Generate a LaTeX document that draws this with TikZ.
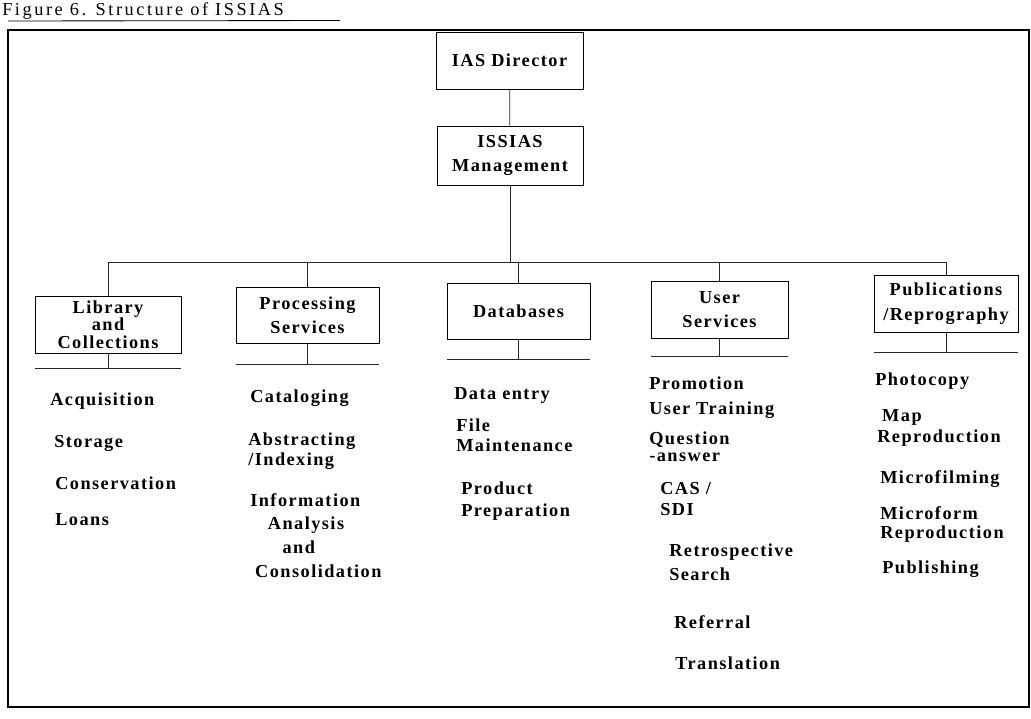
\documentclass[tikz,border=0pt]{standalone}
\usepackage{fontspec}
\setmainfont{Liberation Serif}[LetterSpace=8]
\newfontfamily\titlefont{Liberation Serif}[LetterSpace=14]
\tikzset{
    every node/.style={font=\fontsize{13}{15.5}\selectfont\bfseries, inner sep=0pt}
}
\tikzset{
    unitbox/.style={draw, line width=.5pt, minimum width=3.6cm,
    	minimum height=1.425cm, align=center},
    item/.style={anchor=west, align=left},
    link/.style={line width=.5pt, draw=black!85}
}

\begin{document}
\begin{tikzpicture}[x=0.025cm, y=-0.025cm]
	\useasboundingbox (0,0) rectangle (1031,718);
	% title and frame
	\node (title) [anchor=base west, font=\titlefont\fontsize{13}{13}\selectfont] at (2,15.5) {Figure 6. Structure of ISSIAS};
	\draw [line width=.6pt] (8,21) -- (340,20.5);
	\draw [line width=1pt] (8,30) rectangle (1029,707);

	% boxes
	\node (dir) [unitbox, minimum width=3.675cm] at (509.5,60.5) {IAS Director};
	\node (mgmt) [unitbox, minimum width=3.65cm, minimum height=1.475cm] at (510,155.5) {ISSIAS\\[1.5pt]Management};
	\node (lib) [unitbox, minimum width=3.65cm] at (108,324.5) {Library\\[-3pt]and\\[-3pt]Collections};
	\node (proc) [unitbox, minimum width=3.575cm, minimum height=1.4cm] at (307.5,315) {Processing\\[1.5pt]Services};
	\node (db) [unitbox, minimum width=3.575cm, minimum height=1.4cm] at (518.5,311) {Databases};
	\node (user) [unitbox, minimum width=3.425cm] at (719.5,309.5) {User\\[2pt]Services};
	\node (pub) [unitbox, minimum width=3.6cm] at (946,303.5) {Publications\\[2pt]/Reprography};

	% connectors
	\draw [link] (dir) edge (mgmt);
	\coordinate (bus) at (506,262);
	\draw [link] (mgmt.south) -- (mgmt.south |- bus);
	\draw [link] (lib.north |- bus) -- (pub.north |- bus);
	\foreach \b in {lib,proc,db,user,pub}
		\draw [link] (\b.north |- bus) -- (\b.north);
	\foreach \b/\y in {lib/368,proc/364,db/359,user/356,pub/352} {
		\coordinate (\b-s) at (0,\y);
		\draw [link] (\b.south) -- (\b.south |- \b-s);
		\draw [link] (\b.south west |- \b-s) -- (\b.south east |- \b-s);
	}

	% tasks under each unit
	\foreach \x/\y/\t [count=\i] in {50/401/Acquisition, 54/443/Storage,
		55/483/Conservation, 55/520/Loans}
		\node (lt\i) [item] at (\x,\y) {\t};
	\node (pt1) [item] at (250,398) {Cataloging};
	\node (pt2) [item] at (248,451) {Abstracting\\[-1pt]/Indexing};
	\node (pt3) [item] at (250,535.5) {Information\\[1.5pt]\hspace*{12.5pt}Analysis\\[1.5pt]\hspace*{23pt}and\\[1.5pt]\hspace*{3.5pt}Consolidation};
	\node (dt1) [item] at (454,395) {Data entry};
	\node (dt2) [item] at (456,435.5) {File\\[-1pt]Maintenance};
	\node (dt3) [item] at (461,501) {Product\\Preparation};
	\node (ut1) [item] at (649,383) {Promotion};
	\node (ut2) [item] at (649,410) {User Training};
	\node (ut3) [item] at (649,446.5) {Question\\[-3.5pt]-answer};
	\node (ut4) [item] at (660,499) {CAS /\\SDI};
	\node (ut5) [item] at (669,562) {Retrospective\\[1.5pt]Search};
	\node (ut6) [item] at (674,622) {Referral};
	\node (ut7) [item] at (675,663) {Translation};
	\node (rt1) [item] at (875,381) {Photocopy};
	\node (rt2) [item] at (877,428) {\hspace*{3.5pt}Map\\Reproduction};
	\node (rt3) [item] at (880,479) {Microfilming};
	\node (rt4) [item] at (880,524.5) {Microform\\[-2pt]Reproduction};
	\node (rt5) [item] at (882,569) {Publishing};
\end{tikzpicture}
\end{document}
